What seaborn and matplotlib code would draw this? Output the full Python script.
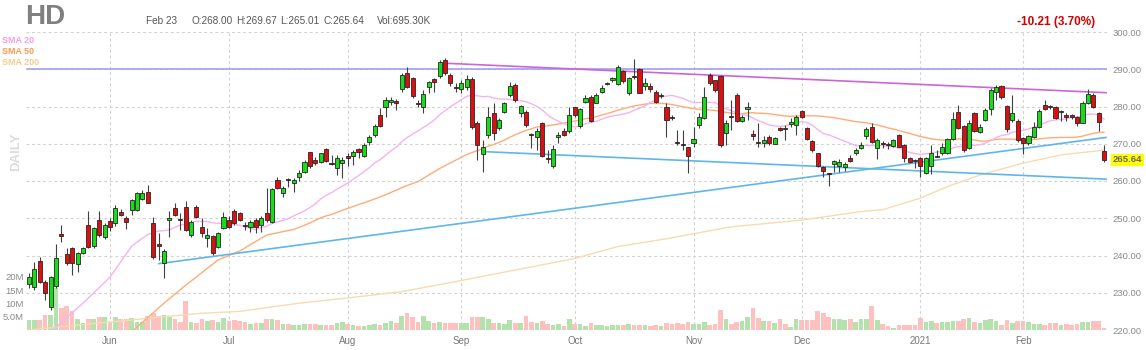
import numpy as np
import pandas as pd
import matplotlib
matplotlib.use("Agg")
import matplotlib.pyplot as plt
import seaborn as sns

# ---------------- data ----------------
ticker = "HD"
first_day = "2020-05-08"
last_day = "2021-02-23"
market_holidays = ["2020-05-25", "2020-07-03", "2020-09-07", "2020-11-26",
                   "2020-12-25", "2021-01-01", "2021-01-18", "2021-02-15"]

opens = [232.3, 231.6, 238.4, 233.0, 226.2, 231.8, 245.8, 240.4, 241.9, 237.7,
         240.7, 248.2, 242.5, 249.5, 245.1, 249.3, 248.6, 251.8, 250.0, 252.2,
         252.2, 255.3, 257.1, 248.8, 243.2, 237.9, 249.5, 252.7, 249.7, 253.1,
         245.5, 253.1, 247.7, 244.6, 245.2, 242.4, 247.3, 249.5, 252.0, 251.5,
         248.2, 247.7, 249.5, 248.2, 251.5, 249.1, 260.3, 256.7, 260.4, 259.4,
         261.2, 262.5, 267.7, 265.6, 265.2, 268.6, 264.8, 263.4, 264.7, 266.7,
         266.7, 268.5, 266.7, 270.6, 272.35, 277.7, 280.0, 281.3, 281.5, 284.6,
         289.1, 287.6, 281.0, 280.0, 285.15, 287.3, 288.2, 292.5, 288.5, 285.3,
         284.6, 285.2, 287.3, 275.7, 267.3, 272.4, 278.2, 274.1, 278.6, 283.1,
         285.8, 278.2, 278.4, 272.5, 271.7, 275.5, 266.2, 263.9, 271.7, 273.5,
         273.3, 279.8, 274.8, 281.3, 282.5, 281.0, 284.0, 286.0, 287.1, 286.0,
         289.4, 283.7, 288.2, 290.0, 285.5, 285.5, 284.0, 282.8, 280.0, 277.2,
         270.4, 269.8, 269.0, 270.1, 275.0, 276.8, 288.5, 287.0, 288.2, 273.0,
         277.4, 283.1, 276.2, 279.2, 272.5, 270.6, 270.3, 271.7, 269.9, 274.1,
         274.1, 275.3, 275.0, 278.9, 274.1, 270.8, 267.4, 263.7, 262.0, 264.6,
         264.1, 263.7, 266.1, 267.4, 268.8, 272.1, 274.6, 268.8, 270.2, 270.0,
         269.4, 272.35, 269.7, 266.1, 265.5, 266.1, 262.2, 264.0, 266.8, 267.4,
         267.4, 271.2, 278.4, 274.8, 268.8, 278.2, 273.25, 276.4, 279.2, 284.0,
         285.5, 280.1, 276.4, 276.2, 271.5, 270.1, 271.7, 274.4, 280.4, 280.0,
         279.8, 278.4, 277.7, 277.7, 277.3, 275.7, 281.0, 283.1, 278.35, 268.00]

highs = [235.3, 238.3, 239.5, 233.5, 234.6, 243.2, 248.2, 241.9, 242.2, 240.9,
         242.4, 252.0, 247.6, 252.0, 248.6, 250.2, 253.5, 252.4, 250.5, 255.3,
         257.1, 257.5, 259.0, 250.4, 246.0, 241.8, 252.0, 254.2, 251.3, 254.5,
         249.5, 253.5, 250.0, 247.5, 245.5, 246.2, 251.8, 250.5, 252.5, 251.8,
         249.0, 249.5, 250.0, 250.5, 258.0, 258.0, 261.0, 258.6, 260.7, 260.8,
         263.0, 265.6, 267.9, 266.5, 267.6, 268.8, 267.0, 267.0, 266.5, 267.4,
         268.3, 268.8, 270.1, 272.35, 275.3, 279.5, 282.6, 282.6, 282.0, 288.9,
         290.7, 288.0, 281.75, 284.4, 286.9, 287.6, 292.5, 293.0, 289.0, 286.2,
         287.0, 288.5, 288.0, 276.0, 271.0, 280.0, 280.9, 276.8, 281.3, 286.7,
         286.2, 280.4, 279.1, 272.8, 274.1, 275.9, 268.3, 269.7, 273.2, 274.1,
         280.0, 280.0, 279.5, 283.1, 283.1, 283.5, 285.8, 286.7, 288.0, 291.2,
         289.8, 288.0, 292.7, 290.3, 287.56, 286.2, 284.4, 283.5, 280.9, 277.7,
         273.7, 273.7, 269.2, 274.6, 278.2, 285.3, 289.0, 287.1, 288.4, 276.4,
         281.7, 283.5, 277.7, 281.3, 273.7, 275.5, 272.0, 272.3, 271.8, 274.6,
         275.0, 276.8, 277.7, 279.1, 274.4, 271.0, 267.6, 264.0, 262.2, 265.6,
         265.8, 265.0, 267.0, 268.8, 270.5, 274.5, 275.5, 271.5, 270.8, 270.6,
         271.2, 272.6, 269.9, 266.5, 265.8, 266.5, 266.4, 269.7, 268.3, 270.1,
         271.5, 278.4, 280.4, 275.0, 276.4, 278.4, 275.3, 279.5, 284.9, 285.8,
         285.8, 280.4, 283.1, 276.6, 271.7, 272.35, 275.9, 279.2, 281.75, 280.4,
         280.1, 279.1, 278.2, 278.0, 277.5, 281.6, 284.6, 283.7, 278.6, 269.67]

lows = [231.3, 230.7, 232.5, 228.0, 225.5, 231.4, 243.7, 237.4, 234.8, 235.6,
        240.3, 242.0, 242.0, 244.9, 244.5, 246.5, 248.0, 250.5, 247.0, 251.0,
        252.0, 255.0, 254.0, 239.0, 238.8, 234.0, 245.0, 250.5, 246.8, 246.5,
        245.0, 250.0, 245.0, 242.4, 240.1, 242.0, 247.0, 247.4, 248.2, 249.2,
        246.9, 246.2, 246.0, 246.3, 249.0, 248.6, 257.8, 255.8, 258.5, 257.0,
        260.0, 262.1, 263.4, 264.3, 264.7, 265.2, 264.3, 261.6, 260.7, 263.9,
        264.3, 266.1, 266.5, 269.7, 271.7, 274.4, 277.3, 280.4, 279.1, 284.0,
        284.9, 282.2, 279.8, 278.3, 283.5, 284.0, 287.6, 288.5, 285.5, 284.0,
        283.5, 284.5, 274.0, 265.6, 262.5, 271.5, 271.0, 273.7, 278.2, 282.6,
        281.3, 277.3, 274.6, 268.8, 268.3, 266.5, 264.8, 263.5, 270.1, 272.1,
        272.8, 277.3, 274.1, 280.9, 275.9, 280.9, 283.5, 285.8, 286.7, 285.8,
        286.2, 283.1, 287.5, 283.5, 284.4, 284.0, 280.9, 282.2, 271.9, 276.5,
        269.7, 268.3, 262.1, 269.2, 274.1, 276.6, 285.8, 284.0, 269.2, 269.7,
        273.7, 275.9, 275.8, 276.4, 271.0, 269.2, 269.2, 269.7, 269.8, 273.5,
        271.0, 274.4, 272.35, 276.8, 271.0, 267.9, 263.7, 261.2, 258.7, 262.5,
        262.5, 262.8, 265.2, 267.0, 268.5, 271.2, 270.3, 265.8, 268.8, 268.5,
        269.2, 269.0, 265.2, 264.7, 263.4, 261.0, 261.9, 261.9, 266.4, 267.0,
        267.2, 271.0, 273.9, 267.9, 268.5, 273.2, 272.8, 276.0, 277.7, 281.75,
        281.9, 273.2, 275.9, 270.6, 267.2, 269.7, 271.5, 274.1, 279.06, 279.2,
        276.6, 276.2, 276.2, 276.6, 274.8, 275.5, 280.7, 279.5, 273.5, 265.01]

closes = [234.3, 236.4, 232.8, 229.9, 234.2, 239.2, 245.3, 237.9, 237.9, 240.8,
          241.9, 242.4, 247.3, 245.5, 248.2, 247.7, 252.7, 250.9, 249.1, 254.9,
          256.7, 256.9, 254.2, 239.5, 242.6, 241.3, 250.0, 250.9, 249.4, 246.8,
          249.1, 250.4, 246.0, 245.5, 240.6, 245.95, 250.4, 247.7, 248.6, 249.6,
          247.8, 249.1, 247.7, 250.0, 249.5, 257.8, 258.0, 258.0, 260.2, 260.3,
          262.1, 265.0, 263.9, 264.7, 267.4, 265.5, 264.6, 266.1, 265.6, 266.1,
          267.9, 267.9, 269.7, 271.7, 274.8, 274.8, 281.7, 281.75, 280.9, 288.5,
          285.15, 282.8, 280.8, 283.3, 286.7, 286.5, 292.0, 289.1, 286.2, 285.0,
          286.2, 287.3, 274.6, 269.7, 269.2, 277.3, 272.8, 276.4, 280.9, 285.5,
          281.8, 280.0, 275.0, 272.3, 273.3, 266.7, 266.0, 268.5, 272.4, 272.4,
          277.7, 277.7, 279.2, 282.2, 276.2, 283.1, 284.9, 286.3, 287.6, 290.7,
          286.9, 287.6, 287.8, 283.7, 286.2, 284.6, 281.1, 283.1, 276.4, 276.9,
          270.1, 269.6, 266.7, 271.2, 277.3, 282.6, 286.2, 284.3, 269.7, 275.6,
          277.2, 276.2, 277.3, 279.8, 272.2, 270.2, 271.0, 270.1, 271.5, 273.7,
          273.9, 275.9, 277.3, 277.3, 271.2, 268.2, 263.9, 262.8, 261.8, 265.5,
          265.0, 264.6, 265.5, 268.2, 269.7, 273.9, 270.6, 271.0, 270.0, 269.8,
          271.0, 269.2, 266.1, 265.2, 265.4, 264.0, 266.1, 267.4, 266.6, 269.2,
          271.2, 276.6, 274.1, 268.3, 275.7, 273.5, 274.4, 279.1, 284.4, 285.15,
          282.6, 273.9, 278.2, 271.0, 270.3, 272.1, 274.4, 278.9, 279.2, 279.9,
          276.8, 278.9, 277.3, 277.1, 275.7, 281.0, 283.4, 279.8, 275.85, 265.64]

volumes_m = [3.9, 3.9, 3.9, 5.8, 5.8, 16.0, 8.4, 9.0, 7.0, 4.2,
             2.6, 4.2, 4.0, 4.9, 4.9, 3.2, 4.9, 4.2, 4.2, 4.5,
             3.2, 3.2, 5.1, 6.4, 5.1, 5.8, 4.9, 4.2, 3.0, 10.9,
             3.2, 2.5, 4.2, 3.5, 3.9, 3.2, 4.5, 3.5, 3.8, 3.5,
             3.0, 2.3, 2.5, 2.5, 4.0, 4.0, 3.8, 2.3, 2.3, 1.9,
             1.9, 2.3, 2.3, 2.3, 1.9, 1.9, 1.9, 2.5, 3.1, 2.3,
             1.9, 1.5, 1.5, 1.9, 2.3, 1.9, 2.8, 3.5, 2.8, 5.2,
             6.5, 4.8, 3.1, 5.2, 3.5, 2.5, 3.1, 2.8, 2.5, 2.8,
             2.8, 2.5, 5.0, 5.0, 5.0, 4.0, 2.5, 2.8, 2.3, 3.8,
             2.8, 2.8, 5.4, 3.1, 2.8, 3.5, 2.3, 1.9, 2.3, 1.5,
             4.0, 2.3, 2.3, 1.5, 2.5, 1.9, 1.9, 1.5, 1.9, 1.9,
             1.9, 2.3, 1.9, 1.9, 1.8, 1.5, 1.9, 1.5, 2.5, 2.3,
             2.5, 2.3, 3.1, 2.3, 2.3, 3.1, 1.9, 2.3, 7.5, 4.0,
             2.3, 3.1, 3.5, 5.0, 8.2, 4.4, 3.5, 3.5, 2.5, 4.0,
             2.3, 1.3, 4.0, 3.8, 3.8, 3.8, 7.2, 6.3, 5.0, 4.0,
             4.0, 3.8, 4.0, 3.1, 4.0, 4.0, 9.2, 3.8, 2.3, 1.5,
             0.6, 1.9, 1.9, 1.9, 1.9, 4.4, 3.1, 3.4, 2.8, 3.1,
             3.1, 3.5, 3.5, 4.0, 4.4, 3.1, 2.5, 3.8, 4.0, 3.5,
             1.9, 3.8, 2.8, 3.5, 3.5, 3.1, 2.3, 2.3, 1.9, 2.5,
             2.5, 1.9, 2.3, 1.9, 2.3, 3.1, 3.1, 3.4, 3.4, 0.6953]

# early parts of the moving averages (need history before the window)
sma20_lead_day = [4, 10, 15]
sma20_lead_val = [219.5, 227.2, 234.2]
sma50_lead_day = [19, 25, 29, 35, 39, 44]
sma50_lead_val = [219.5, 227.2, 232.0, 238.8, 241.2, 245.5]
sma200_day = [0, 13, 19, 25, 32, 39, 50, 59, 69, 79, 90, 101, 109, 118, 130,
              143, 154, 158, 165, 170, 176, 184, 191, 199]
sma200_val = [220.0, 221.9, 222.7, 223.6, 224.5, 225.0, 227.2, 228.6, 230.3, 233.0,
              236.1, 239.2, 242.4, 244.5, 247.7, 249.5, 251.8, 252.3, 255.4, 258.5,
              261.6, 264.8, 267.0, 268.3]

# hand-drawn trend lines: (start day, start price, end day, end price)
level_line = (-0.4, 290.0, 199.5, 290.0)
resistance_line = (77.3, 291.6, 199.4, 283.7)
support_down_line = (84.0, 267.9, 199.4, 260.5)
support_up_line = (24.0, 237.8, 199.4, 271.7)

price_ticks = [220, 230, 240, 250, 260, 270, 280, 290, 300]
volume_ticks = [5, 10, 15, 20]
volume_tick_labels = ["5.0M", "10M", "15M", "20M"]

# ---------------- styling ----------------
sns.set_theme(style="white")
plt.rcParams["font.family"] = ["Liberation Sans", "DejaVu Sans"]

W, H = 1146, 350
fig = plt.figure(figsize=(W / 100, H / 100), dpi=100)
fig.patch.set_facecolor("white")
ax = fig.add_axes([26 / W, 20 / H, 1081 / W, 298 / H])
axv = ax.twinx()
ax.set_zorder(2)
axv.set_zorder(1)
ax.patch.set_visible(False)

o = np.array(opens)
h = np.array(highs)
l = np.array(lows)
c = np.array(closes)
v = np.array(volumes_m)
n = len(c)
days = np.arange(n)
h = np.maximum(h, np.maximum(o, c))
l = np.minimum(l, np.minimum(o, c))
up = c >= o

dates = pd.bdate_range(first_day, last_day, freq="C", holidays=market_holidays)
dates = dates[:n]

# ---------------- volume (seaborn) ----------------
vol_df = pd.DataFrame({"day": days, "vol": v, "dir": np.where(up, "up", "down")})
sns.barplot(data=vol_df, x="day", y="vol", hue="dir",
            palette={"up": "#b3e2ad", "down": "#ffc0c0"},
            native_scale=True, dodge=False, width=0.86, saturation=1,
            errorbar=None, legend=False, linewidth=0, ax=axv)
axv.set_ylim(0, 298 / 2.65)
axv.set_xlabel("")
axv.set_ylabel("")

# ---------------- moving averages (seaborn) ----------------
cs = pd.Series(c)
sma20_calc = cs.rolling(20).mean()
sma50_calc = cs.rolling(50).mean()
sma20_x = list(sma20_lead_day) + list(days[19:])
sma20_y = list(sma20_lead_val) + list(sma20_calc[19:])
sma50_x = list(sma50_lead_day) + list(days[49:])
sma50_y = list(sma50_lead_val) + list(sma50_calc[49:])

sns.lineplot(x=sma200_day, y=sma200_val, ax=ax, color="#f7dcae", linewidth=1.0,
             errorbar=None, zorder=2)
sns.lineplot(x=sma50_x, y=sma50_y, ax=ax, color="#ffac76", linewidth=1.0,
             errorbar=None, zorder=2)
sns.lineplot(x=sma20_x, y=sma20_y, ax=ax, color="#f5b4ec", linewidth=1.0,
             errorbar=None, zorder=2)

# ---------------- trend lines ----------------
for (d0, p0, d1, p1), col in [(level_line, "#a0a0f0"), (resistance_line, "#cc66d8"),
                              (support_down_line, "#5fb6ea"), (support_up_line, "#5fb6ea")]:
    sns.lineplot(x=[d0, d1], y=[p0, p1], ax=ax, color=col, linewidth=1.2,
                 errorbar=None, zorder=3)

# ---------------- candles ----------------
ax.vlines(days, l, h, color="#404040", linewidth=0.8, zorder=4)
body = np.maximum(np.abs(c - o), 0.25)
mid = (o + c) / 2
ax.bar(days, body, bottom=mid - body / 2, width=0.76,
       color=np.where(up, "#16dd16", "#e00e0e"), edgecolor="#262626",
       linewidth=0.6, zorder=5)

# ---------------- axes ----------------
ax.set_xlim(-0.546, 199.53)
ax.set_ylim(220, 300)
for a in (ax, axv):
    for s in a.spines.values():
        s.set_visible(False)

month_idx, month_lab = [], []
for i in range(1, n):
    if dates[i].month != dates[i - 1].month:
        month_idx.append(i)
        month_lab.append(str(dates[i].year) if dates[i].month == 1 else dates[i].strftime("%b"))
ax.set_xticks(month_idx)
ax.set_xticklabels(month_lab)
ax.set_yticks(price_ticks)
ax.set_yticklabels([f"{p:.2f}" for p in price_ticks])
ax.yaxis.tick_right()
ax.tick_params(axis="x", length=0, pad=4, labelsize=7, labelcolor="#777777")
ax.tick_params(axis="y", length=0, pad=3.8, labelsize=6.8, labelcolor="#8a8a8a",
               right=True, labelright=True, left=False, labelleft=False)
ax.grid(True, color="#d2d2d2", linestyle=(0, (2.5, 2.5)), linewidth=0.8)
ax.set_axisbelow(True)
ax.set_xlabel("")
ax.set_ylabel("")

axv.yaxis.tick_left()
axv.set_yticks(volume_ticks)
axv.set_yticklabels(volume_tick_labels)
axv.tick_params(axis="y", length=0, pad=1.5, labelsize=6.8, labelcolor="#8a8a8a",
                left=True, labelleft=True, right=False, labelright=False)
axv.grid(False)

# last price tag
ax.annotate(f"{c[-1]:.2f}", xy=(1, c[-1]), xycoords=("axes fraction", "data"),
            xytext=(4.2, 0), textcoords="offset points", va="center", ha="left",
            fontsize=6.8, fontweight="bold", color="#666666", annotation_clip=False,
            bbox=dict(boxstyle="square,pad=0.15", facecolor="#ffff00", edgecolor="none"))

# ---------------- header texts ----------------
def fx(px):
    return px / W


def fy(py):
    return 1 - py / H


fig.text(fx(25), fy(24), ticker, fontsize=20, fontweight="bold", color="#808080", va="baseline")
last = dates[-1]
hdr = [(145.5, f"{last.strftime('%b')} {last.day}"), (191.5, f"O:{o[-1]:.2f}"),
       (235.8, f"H:{h[-1]:.2f}"), (279.8, f"L:{l[-1]:.2f}"), (323.2, f"C:{c[-1]:.2f}"),
       (376.5, f"Vol:{v[-1] * 1000:.2f}K")]
for x0, t in hdr:
    fig.text(fx(x0), fy(24), t, fontsize=7.2, color="#555555", va="baseline")

chg = c[-1] - c[-2]
fig.text(fx(1095), fy(24.5), f"{chg:.2f} ({abs(chg) / c[-2] * 100:.2f}%)",
         fontsize=8.5, fontweight="bold", color="#d40000", ha="right", va="baseline")

for ypx, t, col in [(43, "SMA 20", "#f2a2e4"), (54, "SMA 50", "#ff9a50"), (65, "SMA 200", "#f0d08e")]:
    fig.text(fx(2), fy(ypx), t, fontsize=6.5, fontweight="bold", color=col, va="baseline")

fig.text(fx(16), fy(152), "DAILY", fontsize=9.5, fontweight="bold", color="#dcdcdc",
         rotation=90, ha="center", va="center")

fig.savefig("out.png", dpi=100, facecolor="white")
